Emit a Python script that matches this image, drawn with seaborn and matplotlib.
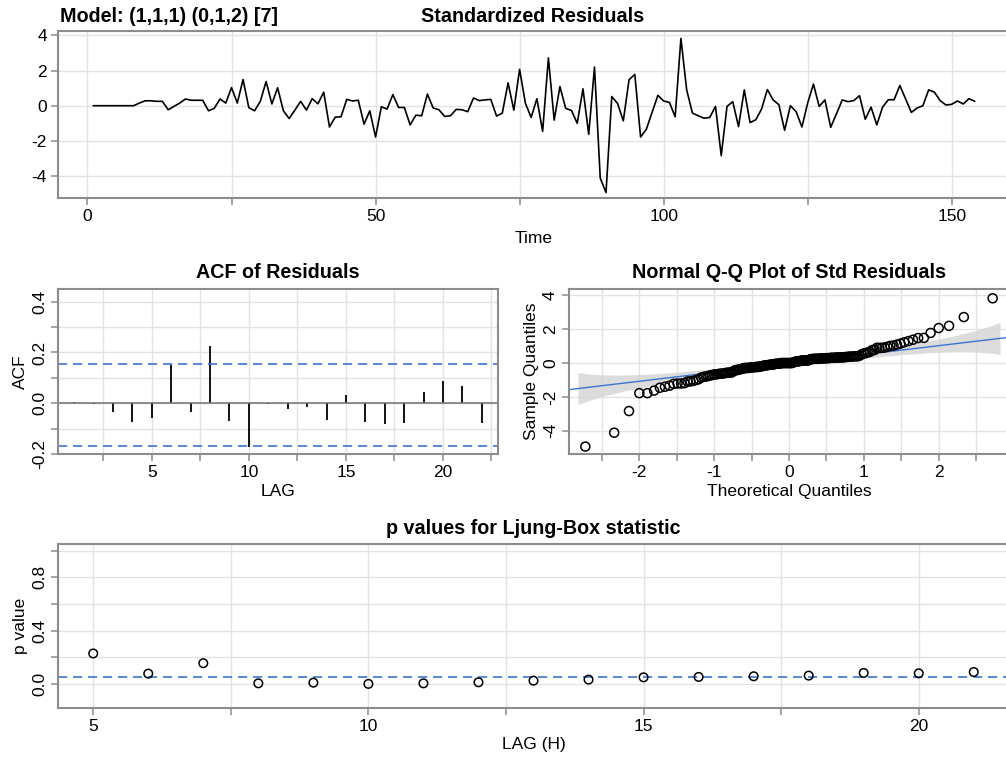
import numpy as np
import pandas as pd
import matplotlib
matplotlib.use("Agg")
import matplotlib.pyplot as plt
from matplotlib.ticker import MultipleLocator
import seaborn as sns
from statistics import NormalDist

# Standardized residuals of the fitted SARIMA model, t = 1..154
resid = [
    0.00, 0.00, 0.00, 0.00, 0.00, 0.00, 0.00, 0.00, 0.15, 0.28,
    0.28, 0.25, 0.25, -0.23, -0.04, 0.15, 0.38, 0.31, 0.31, 0.31,
    -0.29, -0.15, 0.38, 0.15, 1.03, 0.15, 1.49, -0.11, -0.29, 0.25,
    1.38, 0.10, 1.02, -0.29, -0.73, -0.25, 0.25, -0.25, 0.40, 0.11,
    0.77, -1.21, -0.65, -0.63, 0.36, 0.27, 0.31, -1.05, -0.29, -1.78,
    -0.06, -0.19, 0.63, -0.10, -0.10, -1.09, -0.54, -0.57, 0.66, -0.13,
    -0.23, -0.61, -0.57, -0.21, -0.23, -0.34, 0.44, 0.29, 0.33, 0.36,
    -0.59, -0.42, 1.30, -0.25, 2.07, 0.15, -0.67, 0.40, -1.46, 2.72,
    -0.82, 1.09, -0.15, -0.27, -1.00, 0.96, -1.63, 2.20, -4.12, -4.94,
    0.52, 0.13, -0.86, 1.48, 1.78, -1.78, -1.34, -0.38, 0.59, 0.27,
    0.19, -0.63, 3.83, 0.90, -0.42, -0.57, -0.71, -0.67, -0.04, -2.84,
    -0.04, 0.23, -1.19, 0.90, -0.96, -0.80, -0.19, 0.92, 0.33, 0.06,
    -1.40, 0.00, -0.34, -1.21, 0.15, 1.23, -0.04, 0.33, -1.23, -0.46,
    0.33, 0.23, 0.29, 0.57, -0.77, -0.08, -1.09, -0.08, 0.34, 0.34,
    1.15, 0.38, -0.38, -0.13, 0.00, 0.90, 0.77, 0.29, 0.04, 0.08,
    0.27, 0.10, 0.40, 0.25,
]

# Sample ACF of the residuals, lags 1..22, with its significance limits
acf_lags = list(range(1, 23))
acf_vals = [0.004, -0.003, -0.036, -0.073, -0.058, 0.149, -0.036, 0.227,
            -0.069, -0.172, -0.003, -0.022, -0.016, -0.065, 0.033, -0.075,
            -0.083, -0.079, 0.044, 0.089, 0.066, -0.077]
acf_upper = 0.1547
acf_lower = -0.1677

# Ljung-Box p-values, lags 5..21
lb_lags = list(range(5, 22))
lb_pvals = [0.229, 0.078, 0.156, 0.005, 0.010, 0.001, 0.005, 0.013, 0.025,
            0.033, 0.050, 0.053, 0.058, 0.063, 0.083, 0.080, 0.090]
lb_level = 0.05

model_label = "Model: (1,1,1) (0,1,2) [7]"

# ---------------------------------------------------------------- style
sns.set_style("white")
plt.rcParams["font.family"] = ["Liberation Sans", "DejaVu Sans"]
plt.rcParams["axes.unicode_minus"] = False
plt.rcParams["text.color"] = "black"
plt.rcParams["axes.labelcolor"] = "black"

FRAME = "#8c8c8c"
GRID = "#e3e3e3"
BLUE = "#3a74d0"
FS = 12.5      # tick labels and axis labels
TFS = 14.2     # panel titles

W, H = 1006, 767
fig = plt.figure(figsize=(W / 100, H / 100), dpi=100)


def add_ax(left, top, right, bottom):
    return fig.add_axes([left / W, 1 - bottom / H, (right - left) / W, (bottom - top) / H])


def style_ax(ax, xmaj, xmin, ymaj, ymin, rot_y=True):
    ax.xaxis.set_major_locator(MultipleLocator(xmaj))
    ax.xaxis.set_minor_locator(MultipleLocator(xmin))
    ax.yaxis.set_major_locator(MultipleLocator(ymaj))
    ax.yaxis.set_minor_locator(MultipleLocator(ymin))
    ax.grid(True, which="both", color=GRID, lw=1.0)
    ax.set_axisbelow(True)
    for sp in ax.spines.values():
        sp.set_color(FRAME)
        sp.set_linewidth(1.5)
        sp.set_visible(True)
    ax.tick_params(which="both", direction="out", color=FRAME, width=1.1,
                   labelsize=FS, labelcolor="black", bottom=True, left=True)
    ax.tick_params(which="major", length=5, pad=3)
    ax.tick_params(which="minor", length=5)
    if rot_y:
        for lab in ax.get_yticklabels():
            lab.set_rotation(90)
            lab.set_va("center")


def title_at(x, y, text):
    fig.text(x / W, 1 - y / H, text, ha="center", va="center",
             fontsize=TFS, fontweight="bold", color="black")


# ---------------------------------------------------- standardized residuals
ax1 = add_ax(58, 31, 1010, 198)
df_res = pd.DataFrame({"Time": np.arange(1, len(resid) + 1), "resid": resid})
sns.lineplot(data=df_res, x="Time", y="resid", ax=ax1, color="black", lw=1.2)
ax1.set_xlim(-5.12, 160.12)
ax1.set_ylim(-5.25, 4.25)
style_ax(ax1, 50, 25, 2, 2, rot_y=False)
ax1.set_xlabel("Time", fontsize=FS, labelpad=5)
ax1.set_ylabel("")
title_at(533, 17, "Standardized Residuals")
fig.text(60 / W, 1 - 17 / H, model_label, ha="left", va="center",
         fontsize=TFS, fontweight="bold", color="black")

# ---------------------------------------------------------- ACF of residuals
ax2 = add_ax(58, 289, 498, 454)
ax2.vlines(acf_lags, 0, acf_vals, color="black", lw=1.3)
ax2.axhline(0, color="#707070", lw=1.1)
for lim in (acf_upper, acf_lower):
    ax2.axhline(lim, color=BLUE, lw=1.2, dashes=(5.5, 3.5))
ax2.set_xlim(0.16, 22.84)
ax2.set_ylim(-0.2, 0.45)
style_ax(ax2, 5, 2.5, 0.2, 0.1)
ax2.set_xlabel("LAG", fontsize=FS, labelpad=3)
ax2.set_ylabel("ACF", fontsize=FS, labelpad=3)
title_at(278, 272, "ACF of Residuals")

# ------------------------------------------------------------- normal Q-Q plot
ax3 = add_ax(569, 289, 1009, 454)
n = len(resid)
nd = NormalDist()
probs = (np.arange(1, n + 1) - 0.5) / n
theo = np.array([nd.inv_cdf(p) for p in probs])
samp = np.sort(np.array(resid))
q1, q3 = np.percentile(samp, [25, 75])
z1, z3 = nd.inv_cdf(0.25), nd.inv_cdf(0.75)
slope = (q3 - q1) / (z3 - z1)
intercept = q1 - slope * z1

zz = np.linspace(-2.82, 2.82, 300)
pp = np.array([nd.cdf(z) for z in zz])
dens = np.array([nd.pdf(z) for z in zz])
se = slope / dens * np.sqrt(pp * (1 - pp) / n)
fit = intercept + slope * zz
ax3.fill_between(zz, fit - 3.4 * se, fit + 3.4 * se, color="#d6d6d6", alpha=0.85, lw=0, zorder=1)
ax3.axline((0, intercept), slope=slope, color=BLUE, lw=1.0, zorder=2)
df_qq = pd.DataFrame({"Theoretical Quantiles": theo, "Sample Quantiles": samp})
sns.scatterplot(data=df_qq, x="Theoretical Quantiles", y="Sample Quantiles", ax=ax3,
                s=42, facecolors="none", edgecolors="black", linewidth=1.1, zorder=3)
ax3.set_xlim(-2.94, 2.94)
ax3.set_ylim(-5.38, 4.38)
style_ax(ax3, 1, 0.5, 2, 2)
ax3.set_xlabel("Theoretical Quantiles", fontsize=FS, labelpad=3)
ax3.set_ylabel("Sample Quantiles", fontsize=FS, labelpad=3)
title_at(789, 272, "Normal Q-Q Plot of Std Residuals")

# ------------------------------------------------------ Ljung-Box p-values
ax4 = add_ax(58, 544, 1009, 708)
ax4.axhline(lb_level, color=BLUE, lw=1.2, dashes=(5.5, 3.5), zorder=2)
df_lb = pd.DataFrame({"LAG (H)": lb_lags, "p value": lb_pvals})
sns.scatterplot(data=df_lb, x="LAG (H)", y="p value", ax=ax4, s=38,
                facecolors="none", edgecolors="black", linewidth=1.1, zorder=3)
ax4.set_xlim(4.36, 21.64)
ax4.set_ylim(-0.18, 1.05)
style_ax(ax4, 5, 2.5, 0.4, 0.2)
ax4.set_xlabel("LAG (H)", fontsize=FS, labelpad=2)
ax4.set_ylabel("p value", fontsize=FS, labelpad=3)
title_at(533, 528, "p values for Ljung-Box statistic")

fig.savefig("out.png", dpi=100)
